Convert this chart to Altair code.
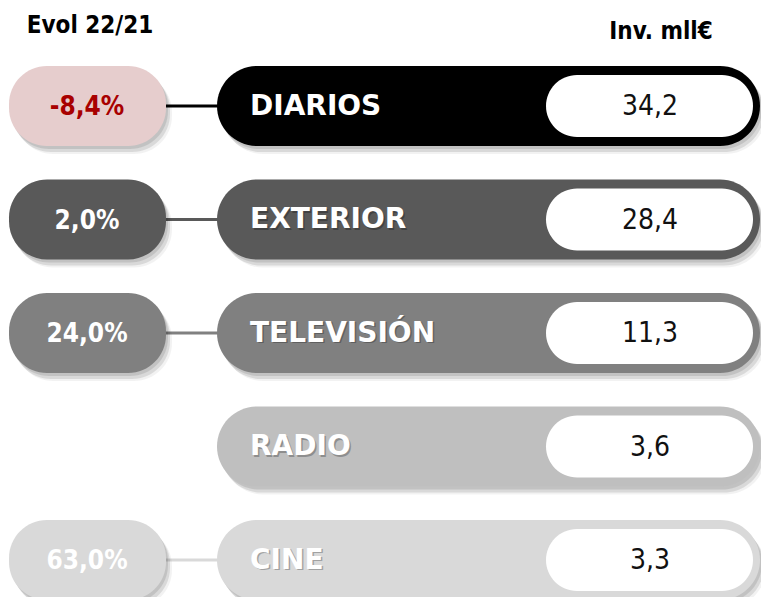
import altair as alt
import pandas as pd

categories = ["DIARIOS", "EXTERIOR", "TELEVISIÓN", "RADIO", "CINE"]
inversion = [34.2, 28.4, 11.3, 3.6, 3.3]
evolucion = [-8.4, 2.0, 24.0, None, 63.0]
bar_colors = ["#000000", "#595959", "#808080", "#bfbfbf", "#d9d9d9"]
pill_colors = ["#e6cdcd", "#595959", "#808080", "#bfbfbf", "#d9d9d9"]
evol_text_colors = ["#a80000", "#ffffff", "#ffffff", "#ffffff", "#ffffff"]

df = pd.DataFrame({
    "cat": categories,
    "pos": list(range(len(categories))),
    "inv": inversion,
    "evol": evolucion,
})

W, H = 753, 589
SP = 113.5
Y0 = 98
d0 = -Y0 / SP
d1 = (H - Y0) / SP
HB = 40 / SP
HI = 31 / SP

yscale = alt.Scale(domain=[d0, d1], reverse=True, nice=False, zero=False)
col_bar = alt.Color("cat:N", scale=alt.Scale(domain=categories, range=bar_colors), legend=None)
col_pill = alt.Color("cat:N", scale=alt.Scale(domain=categories, range=pill_colors), legend=None)
col_etext = alt.Color("cat:N", scale=alt.Scale(domain=categories, range=evol_text_colors), legend=None)

base = alt.Chart(df).transform_calculate(
    top=f"datum.pos - {HB}", bot=f"datum.pos + {HB}",
    itop=f"datum.pos - {HI}", ibot=f"datum.pos + {HI}",
    inv_txt="replace(format(datum.inv, '.1f'), '.', ',')",
    evol_txt="isValid(datum.evol) ? (datum.evol < 0 ? '-' : '') + replace(format(abs(datum.evol), '.1f'), '.', ',') + '%' : ''",
)
ev = base.transform_filter("isValid(datum.evol)")

def rect(src, x1, x2, y1f, y2f, color, radius, **kw):
    return src.mark_rect(cornerRadius=radius, **kw).encode(
        x=alt.value(x1), x2=alt.value(x2),
        y=alt.Y(f"{y1f}:Q", scale=yscale, axis=None),
        y2=f"{y2f}:Q",
        color=color,
    )

NARROW = "Liberation Sans Narrow, DejaVu Sans Condensed, Roboto Condensed, Open Sans Condensed, sans-serif"

# bar layer (shadows + connectors + bars)
bars = []
for dx, dy, op in [(2, 3, 0.10), (4, 6, 0.10), (6, 8, 0.05)]:
    bars.append(rect(base, 209 + dx, 752 + dx, "top", "bot", alt.value("#000"), 40,
                     opacity=op, yOffset=dy, y2Offset=dy))
bars.append(ev.mark_rule(strokeWidth=3).encode(
    x=alt.value(157), x2=alt.value(212),
    y=alt.Y("pos:Q", scale=yscale, axis=None), color=col_bar))
bars.append(rect(base, 209, 752, "top", "bot", col_bar, 40))
bars.append(rect(base, 538, 745, "itop", "ibot", alt.value("#ffffff"), 31))
bars.append(base.mark_text(align="left", baseline="middle", font="DejaVu Sans", fontWeight="bold",
                           fontSize=28, dx=1.5, dy=2, opacity=0.25).encode(
    x=alt.value(242), y=alt.Y("pos:Q", scale=yscale, axis=None), text="cat:N", color=alt.value("#000")))
bars.append(base.mark_text(align="left", baseline="middle", font="DejaVu Sans", fontWeight="bold",
                           fontSize=28, dy=0.5).encode(
    x=alt.value(242), y=alt.Y("pos:Q", scale=yscale, axis=None), text="cat:N", color=alt.value("#ffffff")))
bars.append(base.mark_text(align="center", baseline="middle", font=NARROW,
                           fontSize=28, dy=1).encode(
    x=alt.value(642), y=alt.Y("pos:Q", scale=yscale, axis=None), text="inv_txt:N", color=alt.value("#111111")))
bar_layer = alt.layer(*bars)

# pill layer
pills = []
for dx, dy, op in [(2, 3, 0.10), (4, 6, 0.10), (6, 8, 0.05)]:
    pills.append(rect(ev, 1 + dx, 158 + dx, "top", "bot", alt.value("#000"), 38,
                      opacity=op, yOffset=dy, y2Offset=dy))
pills.append(rect(ev, 1, 158, "top", "bot", col_pill, 38))
pill_layer = alt.layer(*pills)

# evol text layer
etext_layer = ev.mark_text(align="center", baseline="middle", font=NARROW, fontWeight="bold",
                           fontSize=26, dy=1).encode(
    x=alt.value(79), y=alt.Y("pos:Q", scale=yscale, axis=None), text="evol_txt:N", color=col_etext)

# headers
hdr = alt.Chart(pd.DataFrame({"t": ["Evol 22/21"]})).mark_text(
    align="center", baseline="middle", font=NARROW, fontWeight="bold", fontSize=24, color="#000").encode(
    x=alt.value(82), y=alt.value(18), text="t:N")
hdr2 = alt.Chart(pd.DataFrame({"t": ["Inv. mll€"]})).mark_text(
    align="center", baseline="middle", font=NARROW, fontWeight="bold", fontSize=24, color="#000").encode(
    x=alt.value(653), y=alt.value(24), text="t:N")

chart = alt.layer(bar_layer, pill_layer, etext_layer, hdr, hdr2).resolve_scale(
    color="independent"
).properties(
    width=W, height=H, padding=0, autosize=alt.AutoSizeParams(type="none"), background="#ffffff"
).configure_view(stroke=None)

chart.save("out.html", embed_options={"renderer": "svg", "actions": False})
